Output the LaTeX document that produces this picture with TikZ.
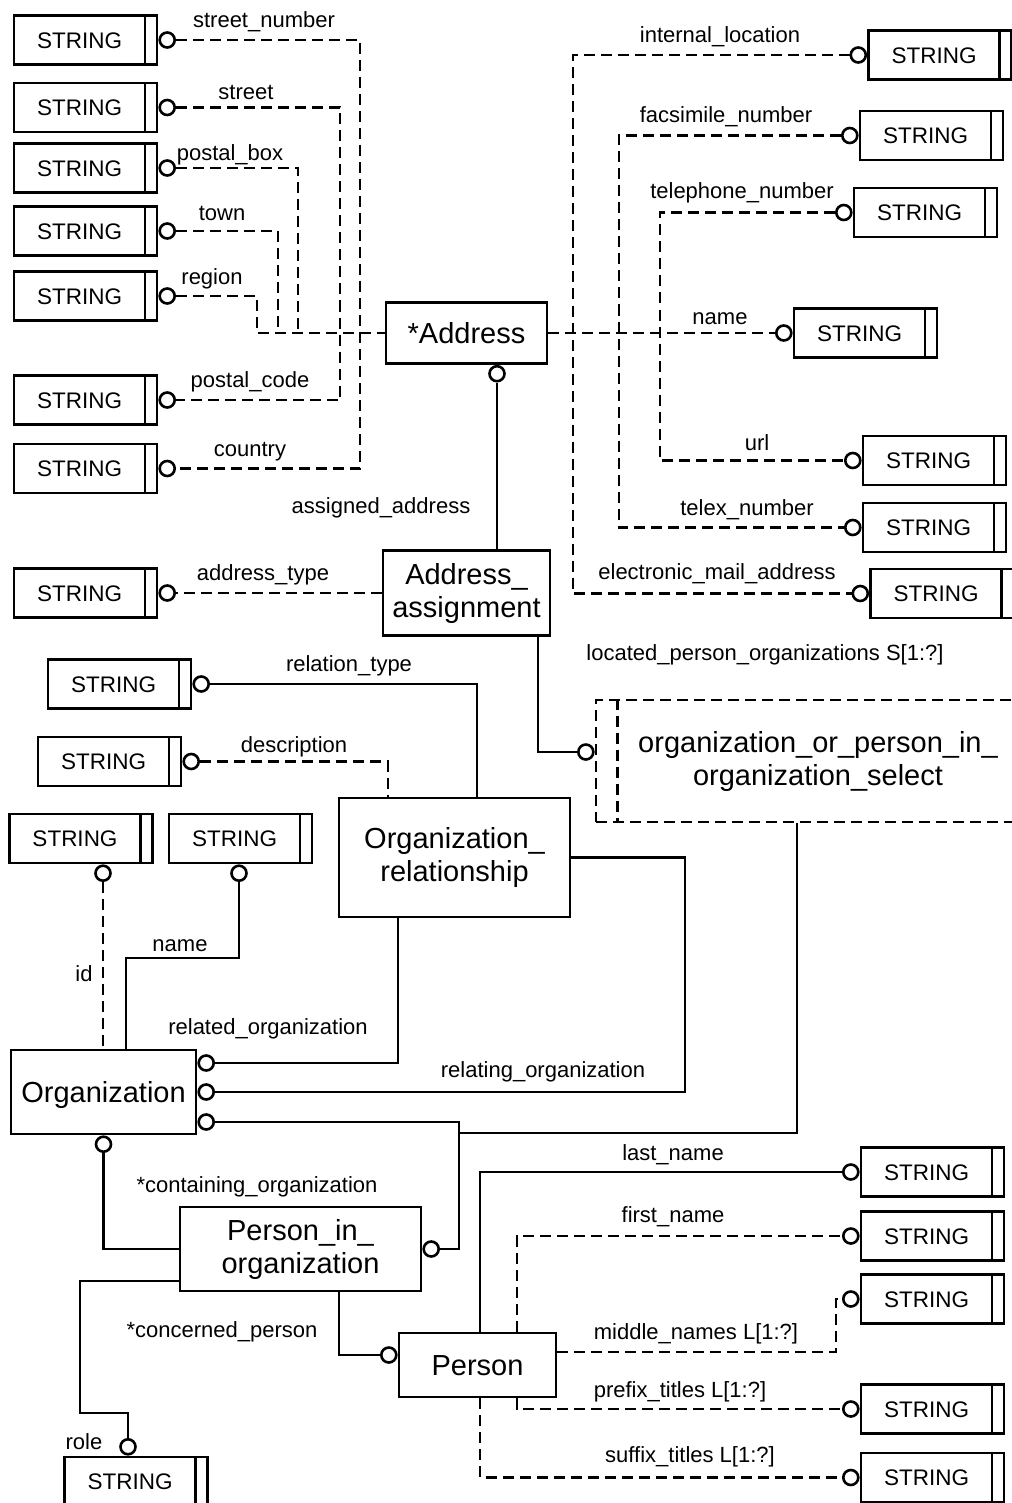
\documentclass[tikz,border=0pt]{standalone}
\usepackage{fontspec}
\setmainfont{Liberation Sans}
\newcommand\entfont{\fontsize{29}{33}\selectfont}
\newcommand\strfont{\fontsize{22.5}{26}\selectfont}
\newcommand\labfont{\fontsize{22}{26}\selectfont}
\newcommand\strtxt{STRING\kern12pt}
\begin{document}
\begin{tikzpicture}[x=1pt,y=-1pt,
  ln/.style={line width=2.7pt},
  dsh/.style={line width=2.7pt, dash pattern=on 11pt off 6pt},
  ent/.style={draw, line width=2.8pt, inner sep=0pt, font=\entfont, align=center},
  ent1/.style={ent, text height=20.8pt, text depth=0pt},
  sbox/.style={draw, line width=2.8pt, minimum width=143pt, minimum height=49pt, inner sep=0pt, font=\strfont, text height=16.2pt, text depth=0pt,
    path picture={\draw[line width=2.8pt] ([xshift=-12pt]path picture bounding box.north east) -- ([xshift=-12pt]path picture bounding box.south east);}},
  cir/.style={circle, draw, fill=white, line width=2.6pt, minimum size=15pt, inner sep=0pt},
  lab/.style={font=\labfont, inner sep=0pt, text height=15.4pt, text depth=0pt}]
\useasboundingbox (0,0) rectangle (1011,1503);

% entities
\node[ent1, minimum width=161pt, minimum height=61pt] (addr) at (466.5,333) {*Address};
\node[ent, minimum width=167pt, minimum height=85pt] (aa) at (466.5,593) {Address\_\\assignment};
\node[ent, minimum width=231pt, minimum height=119pt] (orel) at (454.5,857.5) {Organization\_\\relationship};
\node[ent1, minimum width=185pt, minimum height=84pt] (org) at (103.5,1092) {Organization};
\node[ent, minimum width=241pt, minimum height=84pt] (pio) at (300.5,1249) {Person\_in\_\\organization};
\node[ent1, minimum width=157pt, minimum height=64pt] (pers) at (477.5,1365) {Person};
\node[ent, dsh, minimum width=444pt, minimum height=122pt] (sel) at (818,761) {organization\_or\_person\_in\_\\organization\_select};
\draw[dsh] ([xshift=23pt]sel.north west) -- ([xshift=23pt]sel.south west);

% STRING boxes, left column
\node[sbox] (s1) at (85.5,40) {\strtxt};
\node[sbox] (s2) at (85.5,107.5) {\strtxt};
\node[sbox] (s3) at (85.5,168) {\strtxt};
\node[sbox] (s4) at (85.5,231) {\strtxt};
\node[sbox] (s5) at (85.5,296) {\strtxt};
\node[sbox] (s6) at (85.5,400) {\strtxt};
\node[sbox] (s7) at (85.5,468.5) {\strtxt};
\node[sbox] (s8) at (85.5,593) {\strtxt};
\foreach \i in {1,...,8} {\node[cir, anchor=west] (cl\i) at (s\i.east) {};}

% STRING boxes, right column
\node[sbox] (r1) at (940,55) {\strtxt};
\node[sbox] (r2) at (931.5,135.5) {\strtxt};
\node[sbox] (r3) at (925.5,212.5) {\strtxt};
\node[sbox] (r4) at (865.5,333) {\strtxt};
\node[sbox] (r5) at (934.5,460.5) {\strtxt};
\node[sbox] (r6) at (934.5,527.5) {\strtxt};
\node[sbox] (r7) at (942,593.5) {\strtxt};
\foreach \i in {1,...,7} {\node[cir, anchor=east] (cr\i) at (r\i.west) {};}

% STRING boxes, middle
\node[sbox] (m1) at (119.5,684) {\strtxt};
\node[sbox] (m2) at (109.5,761.5) {\strtxt};
\node[sbox] (m3) at (81,838.5) {\strtxt};
\node[sbox] (m4) at (240.5,838.5) {\strtxt};
\node[sbox] (m5) at (136,1481.5) {\strtxt};
\node[cir, anchor=west] (cm1) at (m1.east) {};
\node[cir, anchor=west] (cm2) at (m2.east) {};
\node[cir, anchor=north] (cm3) at ([xshift=22pt]m3.south) {};
\node[cir, anchor=north] (cm4) at ([xshift=-1.5pt]m4.south) {};
\node[cir, anchor=south] (cm5) at ([xshift=-8pt]m5.north) {};

% STRING boxes, bottom right
\node[sbox] (b1) at (932.5,1172) {\strtxt};
\node[sbox] (b2) at (932.5,1236) {\strtxt};
\node[sbox] (b3) at (932.5,1299) {\strtxt};
\node[sbox] (b4) at (932.5,1409) {\strtxt};
\node[sbox] (b5) at (932.5,1477.5) {\strtxt};
\foreach \i in {1,...,5} {\node[cir, anchor=east] (cb\i) at (b\i.west) {};}

% circles on entities
\node[cir, anchor=north] (caa) at ([xshift=30.5pt]addr.south) {};
\node[cir, anchor=east] (csel) at ([yshift=9pt]sel.west) {};
\node[cir, anchor=west] (co1) at ([yshift=29pt]org.east) {};
\node[cir, anchor=west] (co2) at (org.east) {};
\node[cir, anchor=west] (co3) at ([yshift=-30pt]org.east) {};
\node[cir, anchor=north] (cob) at (org.south) {};
\node[cir, anchor=west] (cpio) at (pio.east) {};
\node[cir, anchor=east] (cpers) at ([yshift=10pt]pers.west) {};

% bend coordinates
\coordinate (xa) at (257,0);
\coordinate (xb) at (278,0);
\coordinate (xc) at (298,0);
\coordinate (xd) at (340,0);
\coordinate (xe) at (360,0);
\coordinate (xf) at (573,0);
\coordinate (xg) at (619,0);
\coordinate (xh) at (660,0);
\coordinate (xi) at (538,0);
\coordinate (xj) at (477,0);
\coordinate (xk) at (388,0);
\coordinate (xl) at (398,0);
\coordinate (xm) at (685,0);
\coordinate (xn) at (797,0);
\coordinate (xo) at (459,0);
\coordinate (jn) at (459,1133);
\coordinate (nb) at (126,958);
\coordinate (rb) at (80,1413);
\coordinate (xp) at (339,0);
\coordinate (xq) at (480,0);
\coordinate (xr) at (517,0);
\coordinate (xs) at (836,0);

% Address attributes, left
\draw[dsh] (cl5.east) -| (xa |- addr.west) -- (addr.west);
\draw[dsh] (cl4.east) -| (xb |- addr.west);
\draw[dsh] (cl3.east) -| (xc |- addr.west);
\draw[dsh] (cl2.east) -| (xd |- cl6.east) -- (cl6.east);
\draw[dsh] (cl1.east) -| (xe |- cl7.east) -- (cl7.east);

% Address attributes, right
\draw[dsh] (addr.east) -- (cr4.west);
\draw[dsh] (cr1.west) -| (xf |- cr7.west) -- (cr7.west);
\draw[dsh] (cr2.west) -| (xg |- cr6.west) -- (cr6.west);
\draw[dsh] (cr3.west) -| (xh |- cr5.west) -- (cr5.west);

% Address_assignment
\draw[ln] (caa.south) -- (caa.south |- aa.north);
\draw[dsh] (aa.west) -- (cl8.east);
\draw[ln] (xi |- aa.south) |- (csel.west);

% Organization_relationship
\draw[ln] (cm1.east) -| (xj |- orel.north);
\draw[dsh] (cm2.east) -| (xk |- orel.north);
\draw[ln] (xl |- orel.south) |- (co1.east);
\draw[ln] (co2.east) -| (xm |- orel.east) -- (orel.east);

% select
\draw[ln] (xn |- sel.south) |- (jn);
\draw[ln] (co3.east) -| (xo |- cpio.east) -- (cpio.east);

% Organization attributes
\draw[dsh] (cm3.south) -- (cm3.south |- org.north);
\draw[ln] (cm4.south) |- (nb) -- (nb |- org.north);

% Person_in_organization
\draw[ln] (cob.south) |- (pio.west);
\draw[ln] ([yshift=-32pt]pio.west) -| (rb) -| (cm5.north);
\draw[ln] (xp |- pio.south) |- (cpers.west);

% Person attributes
\draw[ln] (xq |- pers.north) |- (cb1.west);
\draw[dsh] (xr |- pers.north) |- (cb2.west);
\draw[dsh] ([yshift=13pt]pers.east) -| (xs |- cb3.west) -- (cb3.west);
\draw[dsh] (xr |- pers.south) |- (cb4.west);
\draw[dsh] (xq |- pers.south) |- (cb5.west);

% labels
\node[lab] (l1) at (264,20) {street\_number};
\node[lab] (l2) at (246,92) {street};
\node[lab] (l3) at (230,153) {postal\_box};
\node[lab] (l4) at (222,213) {town};
\node[lab] (l5) at (212,277) {region};
\node[lab] (l6) at (250,380) {postal\_code};
\node[lab] (l7) at (250,449) {country};
\node[lab] (l8) at (381,506) {assigned\_address};
\node[lab] (l9) at (263,573) {address\_type};
\node[lab] (l10) at (720,35) {internal\_location};
\node[lab] (l11) at (726,115) {facsimile\_number};
\node[lab] (l12) at (742,191) {telephone\_number};
\node[lab] (l13) at (720,317) {name};
\node[lab] (l14) at (757,443) {url};
\node[lab] (l15) at (747,508) {telex\_number};
\node[lab] (l16) at (717,572) {electronic\_mail\_address};
\node[lab] (l17) at (765,653) {located\_person\_organizations S[1:?]};
\node[lab] (l18) at (349,664) {relation\_type};
\node[lab] (l19) at (294,745) {description};
\node[lab] (l20) at (180,944) {name};
\node[lab] (l21) at (84,974) {id};
\node[lab] (l22) at (268,1027) {related\_organization};
\node[lab] (l23) at (543,1070) {relating\_organization};
\node[lab] (l24) at (257,1185) {*containing\_organization};
\node[lab] (l25) at (222,1330) {*concerned\_person};
\node[lab] (l26) at (84,1442) {role};
\node[lab] (l27) at (673,1153) {last\_name};
\node[lab] (l28) at (673,1215) {first\_name};
\node[lab] (l29) at (696,1332) {middle\_names L[1:?]};
\node[lab] (l30) at (680,1390) {prefix\_titles L[1:?]};
\node[lab] (l31) at (690,1455) {suffix\_titles L[1:?]};
\end{tikzpicture}
\end{document}
